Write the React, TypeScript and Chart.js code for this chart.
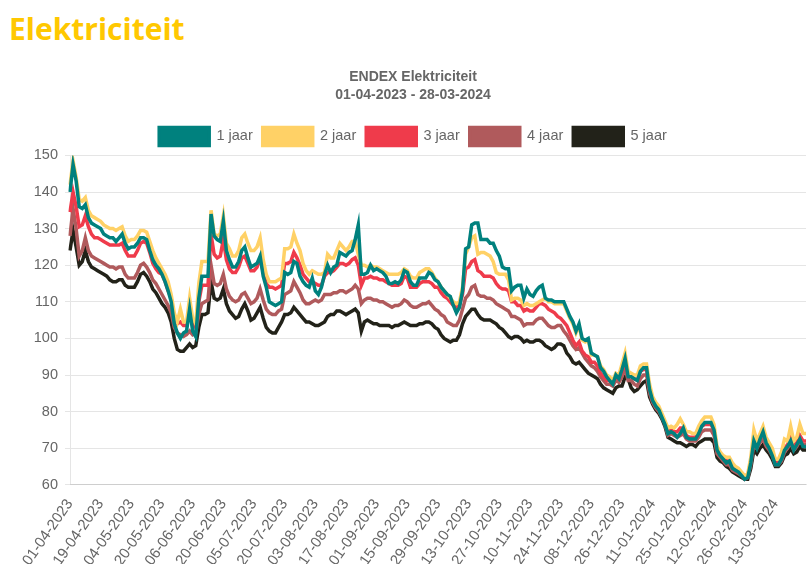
import React, { useEffect, useRef } from 'react';
import { Chart, registerables } from 'chart.js';

Chart.register(...registerables);

const tickDates = [
  '01-04-2023', '19-04-2023', '04-05-2023', '20-05-2023', '06-06-2023', '20-06-2023',
  '05-07-2023', '20-07-2023', '03-08-2023', '17-08-2023', '01-09-2023', '15-09-2023',
  '29-09-2023', '13-10-2023', '27-10-2023', '10-11-2023', '24-11-2023', '08-12-2023',
  '26-12-2023', '11-01-2024', '25-01-2024', '12-02-2024', '26-02-2024', '13-03-2024',
];
const endDate = '28-03-2024';
const TICK_EVERY = 10;

const seriesNames = ['1 jaar', '2 jaar', '3 jaar', '4 jaar', '5 jaar'];
const seriesColors = ['#00817E', '#FFD166', '#EF3B4B', '#B05A5C', '#222219'];

const oneYear = [
  140, 147.5, 143, 136, 135.5, 136.5, 133, 131.5, 131, 130.5,
  130, 128.5, 128, 127.5, 127.5, 126.5, 127.5, 128.5, 126, 124.5,
  125, 125, 126, 127.5, 127.5, 127, 124, 121.5, 120, 119,
  117.5, 115.5, 113, 110, 104, 101.5, 100, 101.5, 102, 108,
  102, 100.5, 111, 117, 117, 117, 134, 128, 127, 126.5,
  132, 124, 121.5, 119.5, 119.5, 121, 124, 125, 122, 119.5,
  120, 120.5, 122.5, 117, 114, 110, 109.5, 109, 109.5, 110,
  118, 117.5, 118, 121, 120.5, 117, 115.5, 114.5, 114, 116.5,
  113, 112, 114, 117.5, 120, 118, 119.5, 120, 123.5, 123,
  122.5, 123.5, 124, 127, 131, 117.5, 117.5, 118, 120, 118.5,
  119, 118.5, 118, 117, 115, 115, 115.5, 115, 116, 118.5,
  118, 115.5, 114.5, 114.5, 116.5, 116.5, 116.5, 118, 117.5, 116,
  115.5, 114, 113, 112, 111.5, 109, 107, 108.5, 113, 124.5,
  125, 131, 131.5, 131.5, 127, 127, 127, 126, 126, 124,
  122.5, 119.5, 119, 119, 113, 114, 114.5, 114.5, 111, 113.5,
  112, 111.5, 113, 114, 114.5, 111, 110.5, 110.5, 110, 110,
  110, 110, 108, 106, 104.5, 102, 104, 100, 99.5, 100,
  96, 95.5, 95, 92, 91, 89.5, 88.5, 87.5, 90, 89,
  91.5, 94.5, 89.5, 89.5, 89, 88.5, 91, 92, 92, 86,
  83, 81.5, 80.5, 78.5, 76.5, 74, 74.5, 74, 73, 74,
  75.5, 73, 72.5, 72.5, 72.5, 74, 76, 77, 77, 77,
  75, 69.5, 68, 67, 66, 66.5, 64.5, 64, 63.5, 62.5,
  61.5, 62, 66, 72, 70, 72.5, 74.5, 71.5, 70, 68,
  65.5, 65.5, 67, 69.5, 70.5, 72, 69.5, 71, 72.5, 70.5,
  70.5,
];

const twoYear = [
  142, 148.5, 144, 138, 137.5, 138.5, 135, 133.5, 133, 132.5,
  132, 131, 130.5, 130, 130, 129.5, 130, 130.5, 128, 126.5,
  127, 127, 128, 129.5, 129.5, 129, 126.5, 124, 122, 120.5,
  119, 117.5, 115.5, 112, 107, 104.5, 108, 104.5, 104.5, 111,
  105.5, 104, 115, 121, 121, 121, 135, 128.5, 128, 128.5,
  133.5, 126, 124.5, 122.5, 122.5, 124, 127.5, 128.5, 126, 124,
  124, 125, 127.5, 121.5, 117.5, 115.5, 115.5, 115.5, 116, 116.5,
  124.5, 124.5, 125, 128.5, 126, 124, 120.5, 118.5, 117.5, 118.5,
  118, 117.5, 117.5, 118, 123, 122, 122, 124, 126, 125,
  124, 125, 126.5, 126.5, 123, 120, 120, 119.5, 120, 119.5,
  119.5, 119, 118.5, 118, 117.5, 117.5, 117.5, 117.5, 118, 119,
  118.5, 117, 116.5, 116.5, 118, 118.5, 119, 119, 118, 116.5,
  115.5, 114, 113, 112, 111, 110, 109.5, 110, 114, 123,
  125, 127.5, 128, 123, 123.5, 123.5, 123, 122.5, 121, 118,
  117.5, 117.5, 117.5, 116, 110.5, 111, 111, 110.5, 109, 109.5,
  109, 109, 109.5, 110, 110.5, 111, 110, 110, 109.5, 109.5,
  109.5, 109.5, 107.5, 105.5, 104, 101.5, 103.5, 99.5, 99, 99.5,
  95.5, 95.5, 95, 92.5, 91.5, 90, 89.5, 88.5, 90.5, 90,
  93, 96, 91, 90.5, 90, 90, 92.5, 93, 93, 87.5,
  84, 82.5, 81.5, 79.5, 77.5, 75.5, 76, 75.5, 76.5, 78,
  76.5, 74.5, 74.5, 74, 74, 76, 77.5, 78.5, 78.5, 78.5,
  76.5, 70.5, 69, 68, 67.5, 67.5, 66, 65, 64.5, 63.5,
  62.5, 63, 67.5, 75, 72, 74, 76, 73, 71.5, 70,
  67, 67, 69, 72.5, 72, 76, 72, 73, 76.5, 74,
  74,
];

const threeYear = [
  134.5, 140, 136, 130.5, 131, 133.5, 130.5, 128.5, 127.5, 127.5,
  127, 126.5, 126, 125.5, 125.5, 125.5, 125.5, 126, 124, 122.5,
  122.5, 122.5, 124, 126, 126.5, 126, 123.5, 120.5, 119, 118,
  117.5, 115.5, 113, 111, 105, 104, 104.5, 103.5, 103.5, 108.5,
  103.5, 103, 110, 114.5, 114.5, 114.5, 128.5, 123, 122, 122.5,
  127, 121.5, 119, 118, 118, 119.5, 122, 122.5, 120.5, 118.5,
  118.5, 119.5, 122, 118, 115, 114, 114, 113.5, 114, 114.5,
  120.5, 120.5, 121, 123.5, 122, 120, 117.5, 116.5, 115.5, 115.5,
  115, 114.5, 114.5, 117, 118, 118, 118.5, 119.5, 120.5, 120.5,
  120, 120.5, 121.5, 122, 120, 114.5, 116.5, 116.5, 117, 116.5,
  116.5, 116, 116, 115.5, 115, 114.5, 114.5, 114.5, 115, 117,
  116.5, 114, 114, 114, 115, 115.5, 115.5, 115.5, 115, 114,
  114, 112.5, 111.5, 111, 110, 109, 108.5, 109, 112, 119,
  119.5, 121, 121.5, 118.5, 118, 117, 117, 117, 116.5, 115,
  114, 113.5, 113.5, 113, 110, 110, 109, 109, 107.5, 108,
  107.5, 107.5, 108.5, 109.5, 109.5, 109, 108, 107.5, 107, 106,
  105.5, 104.5, 103.5, 101.5, 99.5, 98, 99, 96.5, 95.5, 95,
  93.5, 93.5, 92.5, 90.5, 89.5, 88.5, 88.5, 87.5, 89.5, 89,
  91, 93.5, 89.5, 89.5, 89, 88.5, 91, 91.5, 91.5, 86,
  83, 81.5, 80.5, 79, 77, 74.5, 75, 74.5, 74.5, 75.5,
  75.5, 73.5, 73, 73, 73, 74.5, 76, 76.5, 76.5, 76.5,
  75, 69.5, 68.5, 67.5, 66.5, 66.5, 65, 64.5, 64, 63,
  62, 62.5, 66.5, 72.5, 71, 73, 74.5, 72, 70.5, 69,
  66, 66, 67.5, 70, 71, 73, 70.5, 71.5, 73.5, 72,
  72,
];

const fourYear = [
  128, 135.5, 130, 122.5, 124, 127.5, 124, 122.5, 122, 121.5,
  121, 120.5, 120, 119.5, 119.5, 119, 119.5, 119.5, 117.5, 116.5,
  116.5, 116.5, 118, 120, 120.5, 119.5, 118, 116, 115, 113.5,
  112, 110.5, 109, 107, 103, 101.5, 101, 100.5, 101, 102,
  101, 101.5, 106.5, 109.5, 110, 110.5, 120, 115, 114.5, 115,
  117.5, 113.5, 111.5, 110.5, 110, 110.5, 112, 112.5, 111, 109.5,
  110, 111, 113.5, 110.5, 108, 107, 106.5, 106.5, 107.5, 108,
  112, 112.5, 113, 115.5, 114, 112.5, 110.5, 109.5, 109.5, 110,
  110.5, 110, 110.5, 112, 112, 112, 112.5, 112.5, 113, 113,
  112.5, 113, 113.5, 114.5, 113.5, 109.5, 110.5, 111, 111, 110.5,
  110.5, 110, 110, 109.5, 109, 108.5, 109, 109, 109.5, 110.5,
  110, 109, 108.5, 108.5, 109, 109.5, 109.5, 110, 109, 108,
  107.5, 106.5, 106, 104.5, 104, 103.5, 103.5, 105, 108, 111,
  112, 114, 114.5, 112, 111.5, 111.5, 111, 111, 110.5, 109.5,
  109, 108.5, 108, 107.5, 106, 106, 105.5, 105, 103.5, 104,
  104, 104, 105, 105.5, 105.5, 104.5, 103.5, 103, 103, 103.5,
  103.5, 102, 101, 99.5, 98, 97, 97.5, 96, 94.5, 93.5,
  92.5, 92, 91, 89.5, 88.5, 87.5, 87.5, 87, 88.5, 88,
  89.5, 92, 88.5, 88.5, 87.5, 87, 89, 90, 90, 85,
  82.5, 81, 80, 78.5, 76.5, 73.5, 74, 73.5, 73, 73.5,
  74, 72.5, 72, 72, 72, 73, 74.5, 75, 75, 75,
  73.5, 68.5, 67.5, 66.5, 65.5, 65.5, 64, 63.5, 63, 62.5,
  61.5, 62, 65.5, 71, 70, 71.5, 72.5, 70.5, 69.5, 68,
  65.5, 65.5, 66.5, 69, 70, 71.5, 69.5, 70.5, 72, 71,
  71,
];

const fiveYear = [
  124, 129.5, 125, 120, 121, 124, 121, 119.5, 119, 118.5,
  118, 117.5, 117, 116, 115.5, 115.5, 116, 116, 114.5, 114,
  114, 114, 115.5, 117.5, 118, 117, 115.5, 113.5, 112.5, 111,
  109.5, 108.5, 107, 104.5, 100, 97, 96.5, 96.5, 97.5, 98.5,
  97.5, 98, 103, 106.5, 106.5, 107, 115.5, 111, 110.5, 111,
  113.5, 109.5, 107.5, 106.5, 105.5, 106, 108, 109.5, 107.5, 105,
  105.5, 107, 108.5, 105.5, 103, 102, 101.5, 101.5, 103, 104.5,
  106.5, 106.5, 107, 108.5, 107.5, 106.5, 105.5, 104.5, 104.5, 104,
  103.5, 103.5, 104, 104.5, 106, 106.5, 106.5, 107.5, 107.5, 107,
  106.5, 107, 107.5, 108, 107, 102, 104.5, 105, 104.5, 104,
  104, 103.5, 103.5, 103.5, 103.5, 103, 103.5, 103.5, 104, 104.5,
  104, 103.5, 103.5, 103.5, 104, 104, 104.5, 104.5, 104, 103,
  102.5, 101, 100, 99.5, 99, 99.5, 99.5, 101, 104, 106,
  107, 108, 108, 106.5, 105.5, 105, 105, 105, 104.5, 104,
  103, 102.5, 101.5, 100.5, 100, 100.5, 100.5, 100, 99, 99.5,
  99, 99, 99.5, 99.5, 99, 98, 97.5, 97, 97.5, 98.5,
  98.5, 98, 96, 95, 93.5, 93, 93.5, 92.5, 91.5, 90.5,
  90, 89.5, 89, 87.5, 86.5, 86, 85.5, 85, 86.5, 87,
  87, 89.5, 89, 86.5, 85.5, 86, 87, 88, 88.5, 84,
  82, 80.5, 79.5, 78, 76, 73, 72.5, 72, 71.5, 71.5,
  71, 70.5, 71, 71, 70.5, 71.5, 72, 72.5, 72.5, 72.5,
  71.5, 67.5, 66.5, 66, 65, 64.5, 63.5, 63, 62.5, 62,
  61.5, 61.5, 64.5, 69.5, 68.5, 70, 71, 69.5, 68.5, 67,
  65, 65, 66, 68, 68.5, 70, 68.5, 69, 70.5, 69.5,
  69.5,
];

const seriesValues = [oneYear, twoYear, threeYear, fourYear, fiveYear];

const FONT = "'Liberation Sans', Arial, Helvetica, sans-serif";

export default function App() {
  const ref = useRef<HTMLCanvasElement>(null);

  useEffect(() => {
    if (!ref.current) return;
    const n = oneYear.length;
    const labels = Array.from({ length: n }, (_, i) => {
      if (i % TICK_EVERY === 0 && i / TICK_EVERY < tickDates.length) return tickDates[i / TICK_EVERY];
      if (i === n - 1) return endDate;
      return '';
    });
    const chart = new Chart(ref.current, {
      type: 'line',
      data: {
        labels,
        datasets: seriesNames.map((name, k) => ({
          label: name,
          data: seriesValues[k],
          borderColor: seriesColors[k],
          backgroundColor: seriesColors[k],
          borderWidth: 3.5,
          fill: false,
          tension: 0,
          pointRadius: 0,
          pointHoverRadius: 0,
        })),
      },
      options: {
        animation: false,
        responsive: false,
        maintainAspectRatio: false,
        layout: { padding: { left: 7, right: 5, top: 0, bottom: 0 } },
        plugins: {
          title: {
            display: true,
            text: ['ENDEX Elektriciteit', '01-04-2023 - 28-03-2024'],
            color: '#666',
            font: { family: FONT, size: 14, weight: 'bold', lineHeight: 1.3 },
            padding: { top: 16, bottom: 13 },
          },
          legend: {
            display: true,
            position: 'top',
            labels: {
              color: '#666',
              font: { family: FONT, size: 14.5 },
              boxWidth: 50,
              boxHeight: 18,
              padding: 10,
            },
          },
          tooltip: { enabled: false },
        },
        scales: {
          x: {
            grid: { display: false },
            border: { display: true, color: 'rgba(0,0,0,0.1)' },
            ticks: {
              autoSkip: false,
              minRotation: 55,
              maxRotation: 55,
              color: '#666',
              font: { family: FONT, size: 15 },
              callback: (_v: any, i: number) =>
                i % TICK_EVERY === 0 && i / TICK_EVERY < tickDates.length ? tickDates[i / TICK_EVERY] : null,
            },
          },
          y: {
            min: 60,
            max: 150,
            afterFit: (scale: any) => {
              scale.width = 50;
            },
            grid: { color: 'rgba(0,0,0,0.1)', tickLength: 5 },
            border: { color: 'rgba(0,0,0,0.1)' },
            ticks: {
              stepSize: 10,
              color: '#666',
              padding: 7,
              font: { family: FONT, size: 14.5 },
            },
          },
        },
      },
    });
    return () => chart.destroy();
  }, []);

  return (
    <div style={{ position: 'absolute', left: 0, top: 0, width: 811, height: 564, background: '#fff', overflow: 'hidden' }}>
      <div
        style={{
          position: 'absolute',
          left: 9,
          top: 8,
          fontFamily: "'Open Sans', sans-serif",
          fontWeight: 700,
          fontSize: 30,
          lineHeight: '41px',
          color: '#FFC800',
          letterSpacing: 0,
        }}
      >
        Elektriciteit
      </div>
      <div style={{ position: 'absolute', left: 13, top: 52, width: 798, height: 520 }}>
        <canvas ref={ref} width={798} height={520} style={{ display: 'block', width: 798, height: 520 }} />
      </div>
    </div>
  );
}
